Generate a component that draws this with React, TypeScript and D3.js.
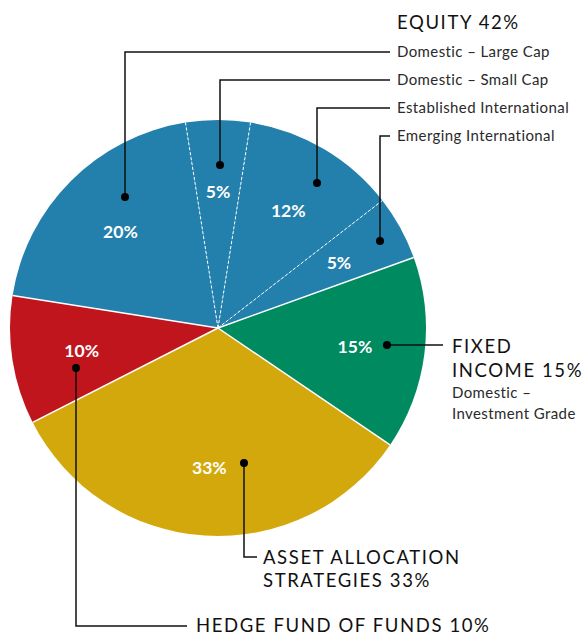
import React, { useEffect, useRef } from "react";
import * as d3 from "d3";

const categories = [
  "Domestic – Large Cap",
  "Domestic – Small Cap",
  "Established International",
  "Emerging International",
  "Fixed Income",
  "Asset Allocation Strategies",
  "Hedge Fund of Funds",
];
const values = [20, 5, 12, 5, 15, 33, 10];
const groups = ["equity", "equity", "equity", "equity", "fixed", "asset", "hedge"];
const groupColors: Record<string, string> = {
  equity: "#237fab",
  fixed: "#008a5f",
  asset: "#d3a80c",
  hedge: "#c1151e",
};

// leader lines: dot point, elbow row
const equityLabels = categories.slice(0, 4);
const equityDots = [
  [125, 197],
  [220, 165],
  [317, 183],
  [380, 241],
];
const equityRows = [52, 80, 108, 136];

export default function App() {
  const ref = useRef<SVGSVGElement>(null);
  useEffect(() => {
    const width = 584;
    const height = 635;
    const cx = 218;
    const cy = 328;
    const R = 208;
    const svg = d3.select(ref.current);
    svg.selectAll("*").remove();
    svg.attr("width", width).attr("height", height);

    const g = svg.append("g").attr("transform", `translate(${cx},${cy})`);
    const start = (-81 * Math.PI) / 180;
    const pie = d3
      .pie<number>()
      .sort(null)
      .startAngle(start)
      .endAngle(start + 2 * Math.PI);
    const arcs = pie(values);
    const arc = d3.arc<d3.PieArcDatum<number>>().innerRadius(0).outerRadius(R);
    const labelArc = d3.arc<d3.PieArcDatum<number>>().innerRadius(138).outerRadius(138);

    g.selectAll("path.slice")
      .data(arcs)
      .enter()
      .append("path")
      .attr("class", "slice")
      .attr("d", arc)
      .attr("fill", (d, i) => groupColors[groups[i]]);

    // boundaries: dashed inside the equity group, solid between groups
    arcs.forEach((d, i) => {
      const a = d.startAngle;
      const prev = groups[(i + groups.length - 1) % groups.length];
      const same = prev === groups[i];
      g.append("line")
        .attr("x1", 0)
        .attr("y1", 0)
        .attr("x2", Math.sin(a) * R)
        .attr("y2", -Math.cos(a) * R)
        .attr("stroke", "#fff")
        .attr("stroke-width", same ? 1 : 1.5)
        .attr("stroke-dasharray", same ? "3,2" : null);
    });

    g.selectAll("text.pct")
      .data(arcs)
      .enter()
      .append("text")
      .attr("class", "pct")
      .attr("transform", (d) => `translate(${labelArc.centroid(d)})`)
      .attr("text-anchor", "middle")
      .attr("dy", "0.45em")
      .attr("fill", "#fff")
      .attr("font-family", "Lato, sans-serif")
      .attr("font-weight", 700)
      .attr("font-size", 17.5)
      .text((d) => `${d.data}%`);

    const lines = svg.append("g").attr("fill", "none").attr("stroke", "#111").attr("stroke-width", 1.5);
    const dots = svg.append("g").attr("fill", "#000");
    const font = "Lato, sans-serif";

    const big = (x: number, y: number, t: string) =>
      svg
        .append("text")
        .attr("x", x)
        .attr("y", y)
        .attr("font-family", font)
        .attr("font-size", 18.5)
        .attr("letter-spacing", 1.6)
        .attr("fill", "#111")
        .text(t);
    const small = (x: number, y: number, t: string) =>
      svg
        .append("text")
        .attr("x", x)
        .attr("y", y)
        .attr("font-family", font)
        .attr("font-size", 15)
        .attr("letter-spacing", 0.4)
        .attr("fill", "#2a2a2a")
        .text(t);

    equityDots.forEach(([x, y], i) => {
      lines.append("path").attr("d", `M${x},${y}V${equityRows[i]}H390`);
      dots.append("circle").attr("cx", x).attr("cy", y).attr("r", 4);
      small(397, equityRows[i] + 5, equityLabels[i]);
    });

    const equityTotal = d3.sum(values.filter((v, i) => groups[i] === "equity"));
    big(397, 29, `EQUITY ${equityTotal}%`);

    // fixed income
    lines.append("path").attr("d", "M387,345H443");
    dots.append("circle").attr("cx", 387).attr("cy", 345).attr("r", 4);
    big(452, 353, "FIXED");
    big(452, 377, `INCOME ${values[4]}%`);
    small(452, 398, "Domestic –");
    small(452, 419, "Investment Grade");

    // asset allocation
    lines.append("path").attr("d", "M244,463V557H257");
    dots.append("circle").attr("cx", 244).attr("cy", 463).attr("r", 4);
    big(263, 564, "ASSET ALLOCATION");
    big(263, 587, `STRATEGIES ${values[5]}%`);

    // hedge fund of funds
    lines.append("path").attr("d", "M76,368V626H187");
    dots.append("circle").attr("cx", 76).attr("cy", 368).attr("r", 4);
    big(196, 632, `HEDGE FUND OF FUNDS ${values[6]}%`);
  }, []);

  return (
    <div style={{ position: "absolute", left: 0, top: 0 }}>
      <svg ref={ref} style={{ display: "block" }}></svg>
    </div>
  );
}
